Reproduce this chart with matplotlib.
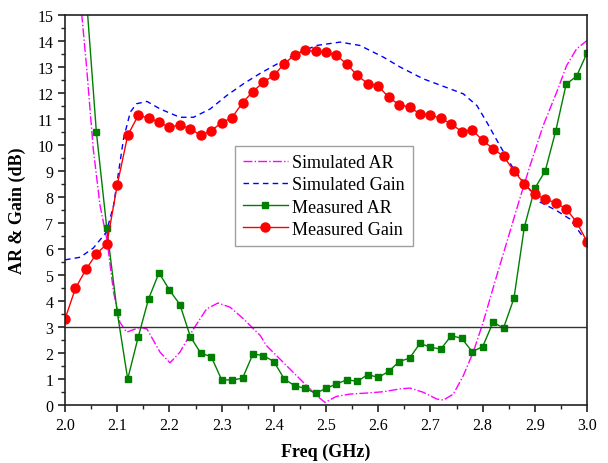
import matplotlib
matplotlib.use("Agg")
import matplotlib.pyplot as plt
from matplotlib.ticker import MultipleLocator

plt.rcParams['font.family'] = ['Liberation Serif', 'DejaVu Serif']

# measured data, every 0.02 GHz
f_meas = [2.00, 2.02, 2.04, 2.06, 2.08, 2.10, 2.12, 2.14, 2.16, 2.18,
          2.20, 2.22, 2.24, 2.26, 2.28, 2.30, 2.32, 2.34, 2.36, 2.38,
          2.40, 2.42, 2.44, 2.46, 2.48, 2.50, 2.52, 2.54, 2.56, 2.58,
          2.60, 2.62, 2.64, 2.66, 2.68, 2.70, 2.72, 2.74, 2.76, 2.78,
          2.80, 2.82, 2.84, 2.86, 2.88, 2.90, 2.92, 2.94, 2.96, 2.98, 3.00]
meas_gain = [3.31, 4.49, 5.21, 5.81, 6.19, 8.46, 10.36, 11.13, 11.04, 10.87,
             10.67, 10.77, 10.62, 10.36, 10.55, 10.85, 11.05, 11.62, 12.05, 12.41,
             12.67, 13.12, 13.46, 13.63, 13.59, 13.56, 13.44, 13.10, 12.67, 12.35,
             12.26, 11.83, 11.54, 11.45, 11.19, 11.15, 11.02, 10.80, 10.51, 10.58,
             10.17, 9.85, 9.56, 9.00, 8.49, 8.10, 7.91, 7.77, 7.54, 7.03, 6.28]
meas_ar = [22.0, 19.0, 15.9, 10.49, 6.79, 3.56, 1.00, 2.60, 4.08, 5.08,
           4.42, 3.86, 2.63, 1.99, 1.86, 0.97, 0.96, 1.03, 1.96, 1.90,
           1.67, 1.00, 0.74, 0.64, 0.45, 0.64, 0.81, 0.97, 0.91, 1.17,
           1.06, 1.29, 1.67, 1.80, 2.37, 2.22, 2.15, 2.67, 2.56, 2.05,
           2.24, 3.18, 2.96, 4.10, 6.85, 8.33, 9.00, 10.53, 12.33, 12.64, 13.53]

# simulated gain
f_sg = [2.00, 2.029, 2.054, 2.079, 2.093, 2.112, 2.125, 2.137, 2.157, 2.182,
        2.220, 2.246, 2.278, 2.310, 2.342, 2.374, 2.418, 2.450, 2.482, 2.527,
        2.565, 2.610, 2.642, 2.686, 2.738, 2.763, 2.789, 2.808, 2.833, 2.859,
        2.884, 2.910, 2.942, 2.967, 3.00]
sim_gain = [5.58, 5.68, 6.03, 6.64, 7.67, 10.23, 11.26, 11.58, 11.67, 11.38,
            11.06, 11.06, 11.38, 11.90, 12.35, 12.75, 13.24, 13.56, 13.82, 13.95,
            13.82, 13.37, 12.99, 12.54, 12.15, 11.96, 11.51, 10.87, 9.97, 9.08,
            8.43, 7.80, 7.47, 7.15, 6.26]

# simulated AR
f_sa = [2.020, 2.032, 2.041, 2.054, 2.067, 2.080, 2.093, 2.105, 2.118, 2.144,
        2.157, 2.182, 2.201, 2.220, 2.246, 2.271, 2.293, 2.316, 2.342, 2.374,
        2.386, 2.418, 2.450, 2.482, 2.498, 2.520, 2.546, 2.578, 2.610, 2.642,
        2.661, 2.686, 2.712, 2.725, 2.744, 2.763, 2.782, 2.801, 2.827, 2.852,
        2.871, 2.891, 2.916, 2.942, 2.961, 2.980, 3.000]
sim_ar = [19.0, 15.0, 13.05, 9.85, 7.67, 6.38, 4.33, 3.18, 2.80, 2.99,
          2.92, 2.03, 1.62, 2.03, 2.92, 3.69, 3.92, 3.76, 3.31, 2.67,
          2.28, 1.64, 1.00, 0.36, 0.10, 0.33, 0.42, 0.46, 0.51, 0.62,
          0.65, 0.49, 0.23, 0.19, 0.42, 1.13, 2.03, 3.18, 4.97, 6.64,
          7.92, 9.21, 10.74, 12.03, 13.05, 13.69, 14.01]

fig = plt.figure(figsize=(6.08, 4.64), dpi=100)
ax = fig.add_axes([0.107, 0.125, 0.8585, 0.841])

ax.plot(f_sa, sim_ar, color='#ff00ff', ls='-.', lw=1.0, label='Simulated AR')
ax.plot(f_sg, sim_gain, color='#0000ff', ls=(0, (4, 3)), lw=1.0, label='Simulated Gain')
ax.plot(f_meas, meas_ar, color='#007f00', ls='-', lw=1.0, marker='s', ms=5,
        label='Measured AR')
ax.plot(f_meas, meas_gain, color='#ff0000', ls='-', lw=1.0, marker='o', ms=6.5,
        label='Measured Gain')
ax.axhline(3, color='#333333', lw=1.0)

ax.set_xlim(2.0, 3.0)
ax.set_ylim(0, 15)
ax.xaxis.set_major_locator(MultipleLocator(0.1))
ax.xaxis.set_minor_locator(MultipleLocator(0.05))
ax.yaxis.set_major_locator(MultipleLocator(1))
ax.yaxis.set_minor_locator(MultipleLocator(0.5))
ax.set_xticklabels([f'{v:.1f}' for v in ax.get_xticks()])
ax.tick_params(which='both', direction='out', top=False, right=False,
               labelsize=11.5, color='#222222')
ax.tick_params(which='major', length=5, width=1.2)
ax.tick_params(which='minor', length=3, width=1.0)
for s in ax.spines.values():
    s.set_linewidth(1.2)
    s.set_color('#222222')

ax.set_xlabel('Freq (GHz)', fontsize=13, fontweight='bold', labelpad=7)
ax.set_ylabel('AR & Gain (dB)', fontsize=13, fontweight='bold', labelpad=8)

leg = ax.legend(loc='upper left', bbox_to_anchor=(0.325, 0.663), fontsize=13,
                frameon=True, fancybox=False, handlelength=2.5,
                borderpad=0.45, labelspacing=0.28, handletextpad=0.25,
                borderaxespad=0)
leg.get_frame().set_edgecolor('#888888')
leg.get_frame().set_linewidth(1.0)

fig.savefig('out.png', dpi=100)
